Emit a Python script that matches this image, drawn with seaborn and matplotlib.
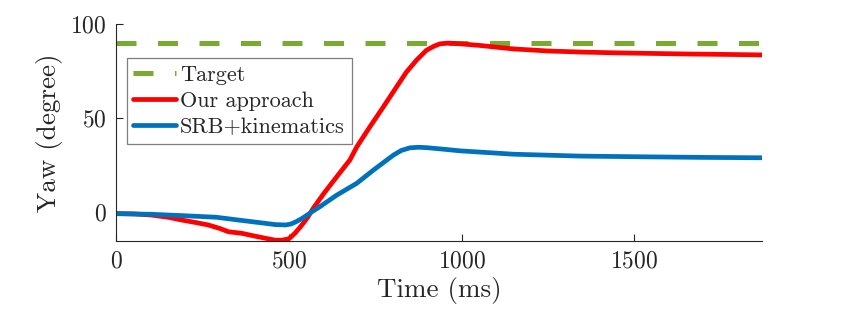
import matplotlib
matplotlib.use("Agg")
import matplotlib.pyplot as plt
import seaborn as sns

# Yaw-szög görbék (értékek)
target_t = [0, 1871]
target_yaw = [90, 90]

ours_t = [0, 50, 100, 150, 190, 230, 266, 300, 324, 362, 400, 440, 460, 480, 500,
          517, 530, 541, 555, 570, 599, 638, 676, 696, 734, 773, 811, 840, 869,
          898, 920, 937, 960, 990, 1050, 1150, 1250, 1350, 1450, 1550, 1650, 1750,
          1871]
ours_yaw = [-0.8, -1.0, -1.6, -2.8, -4.3, -5.6, -6.9, -8.8, -10.5, -11.3, -12.8,
            -14.3, -15.0, -15.0, -14.2, -11.3, -8.5, -6.0, -2.5, 2.0, 9.5, 18.8,
            27.7, 34.7, 45.4, 56.0, 66.6, 74.6, 80.9, 86.2, 88.4, 89.6, 90.0, 89.7,
            88.8, 86.9, 85.8, 85.2, 84.8, 84.5, 84.2, 84.0, 83.7]

srb_t = [0, 100, 200, 290, 350, 430, 460, 490, 505, 520, 536, 551, 570, 589, 638,
         696, 744, 802, 825, 850, 875, 898, 940, 995, 1150, 1342, 1535, 1700, 1871]
srb_yaw = [-0.9, -1.2, -2.0, -2.8, -4.2, -6.0, -6.7, -6.9, -6.4, -5.2, -3.6, -1.8,
           0.6, 2.8, 9.0, 15.3, 22.3, 30.3, 32.8, 34.2, 34.5, 34.3, 33.6, 32.6,
           30.8, 29.8, 29.4, 29.1, 28.9]

sns.set_theme(style="white")
plt.rcParams["font.family"] = ["cmr10", "DejaVu Serif"]
plt.rcParams["axes.formatter.use_mathtext"] = True
plt.rcParams["mathtext.fontset"] = "cm"

fig = plt.figure(figsize=(8.5, 3.16), dpi=100)
ax = fig.add_axes([0.137, 0.237, 0.76, 0.686])

sns.lineplot(x=target_t, y=target_yaw, ax=ax, color="#77AC30", linewidth=3.6,
             linestyle=(0, (4, 4.3)), label="Target")
sns.lineplot(x=ours_t, y=ours_yaw, ax=ax, color="#FF0000", linewidth=3.4,
             label="Our approach")
sns.lineplot(x=srb_t, y=srb_yaw, ax=ax, color="#0072BD", linewidth=3.4,
             label="SRB+kinematics")

ax.set_xlim(0, 1871)
ax.set_ylim(-15.5, 100)
ax.set_xticks([0, 500, 1000, 1500])
ax.set_yticks([0, 50, 100])
ax.set_xlabel("Time (ms)", fontsize=19.5, color="#262626", labelpad=3)
ax.set_ylabel("Yaw (degree)", fontsize=19.5, color="#262626", labelpad=5)
ax.tick_params(axis="both", direction="in", length=5, width=0.8, labelsize=17,
               colors="#262626", bottom=True, left=True, pad=7)

for side in ["top", "right"]:
    ax.spines[side].set_visible(False)
for side in ["left", "bottom"]:
    ax.spines[side].set_color("#262626")
    ax.spines[side].set_linewidth(0.8)

leg = ax.legend(loc="upper left", bbox_to_anchor=(0.016, 0.843), borderaxespad=0,
                fontsize=16, frameon=True, fancybox=False, framealpha=1,
                edgecolor="#7f7f7f", handlelength=1.9, handletextpad=0.2,
                labelspacing=0.3, borderpad=0.3)
leg.get_frame().set_linewidth(0.9)

fig.savefig("out.png", dpi=100)
